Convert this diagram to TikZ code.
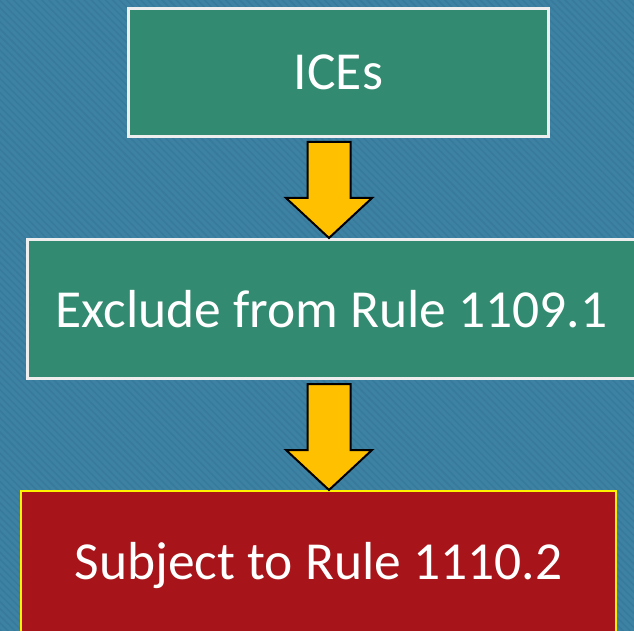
\documentclass[tikz,border=0pt]{standalone}
\usepackage{fontspec}
\setmainfont{Carlito}
\usetikzlibrary{calc,patterns.meta}
\definecolor{slidebg}{HTML}{3D81A3}
\definecolor{stripe}{HTML}{387A9C}
\definecolor{boxgreen}{HTML}{328B70}
\definecolor{boxred}{HTML}{A71419}
\definecolor{arrowyellow}{HTML}{FFC000}
\definecolor{rimwhite}{HTML}{EEEEEE}
\tikzset{
	greenbox/.style={draw=rimwhite, fill=boxgreen, line width=3pt, text=white, font=\fontsize{53.5}{60}\selectfont, inner sep=0pt},
	redbox/.style={draw=yellow, fill=boxred, line width=2pt, text=white, font=\fontsize{53.5}{60}\selectfont, inner sep=0pt},
	bigarrow/.style={draw=black, fill=arrowyellow, line width=2pt, line join=miter}
}
\begin{document}
\begin{tikzpicture}[x=1pt, y=1pt]
		\useasboundingbox (0,0) rectangle (634,630);
		\clip (0,0) rectangle (634,630);
		\fill[slidebg] (-10,-10) rectangle (644,640);
		\fill[pattern={Lines[angle=-45, distance=5pt, line width=1.5pt]}, pattern color=stripe] (-10,-10) rectangle (644,640);
		\node (ices)[greenbox, minimum width=420, minimum height=128] at (338.5,557.5) {ICEs};
		\node (excl)[greenbox, minimum width=608, minimum height=139] at (331.5,321) {Exclude from Rule 1109.1};
		\node (subj)[redbox, minimum width=595, minimum height=149] at (318.5,64.5) {Subject to Rule 1110.2};
		% block arrows, all on one axis
		\foreach \a/\b in {ices/excl, excl/subj}
		{
			\draw[bigarrow] let \p1=(\a.south), \p2=(\b.north) in
				(307.5,\y1-4pt) -- (350.5,\y1-4pt) -- (350.5,\y2+40pt)
				-- (372,\y2+40pt) -- (329,\y2) -- (286,\y2+40pt)
				-- (307.5,\y2+40pt) -- cycle;
		}
	\end{tikzpicture}
\end{document}
